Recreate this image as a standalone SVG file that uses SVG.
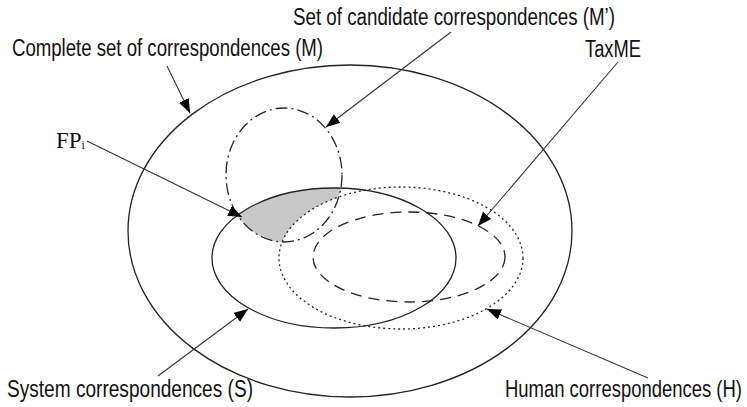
<svg xmlns="http://www.w3.org/2000/svg" width="747" height="407" viewBox="0 0 747 407">
<style>
.lbl{font-family:"Liberation Sans",Arial,sans-serif;font-size:23px;fill:#111}
.ser{font-family:"Liberation Serif","Times New Roman",serif;font-size:23px;fill:#111}
.sh{fill:none;stroke:#222;stroke-width:1.3}
.con{fill:none;stroke:#333;stroke-width:1.1}
</style>
<defs>
<marker id="ah" markerUnits="userSpaceOnUse" markerWidth="16" markerHeight="12" refX="14" refY="5.5" orient="auto">
<path d="M0,0 L14,5.5 L0,11 Z" fill="#000"/>
</marker>
<clipPath id="clipS"><ellipse cx="334" cy="258" rx="122" ry="70"/></clipPath>
</defs>
<rect width="747" height="407" fill="#fff"/>
<g id="fp-region" clip-path="url(#clipS)">
<ellipse cx="284" cy="175" rx="58" ry="67" fill="#c8c8c8"/>
<ellipse cx="401" cy="258" rx="122" ry="71" fill="#fff"/>
</g>
<g id="node-M"><ellipse class="sh" cx="350" cy="231" rx="222" ry="166"/></g>
<g id="node-Mprime"><ellipse class="sh" cx="284" cy="175" rx="58" ry="67" stroke-dasharray="12 4 2 4"/></g>
<g id="node-S"><ellipse class="sh" cx="334" cy="258" rx="122" ry="70"/></g>
<g id="node-H"><ellipse class="sh" cx="401" cy="258" rx="122" ry="71" stroke-dasharray="2 3"/></g>
<g id="node-TaxME"><ellipse class="sh" cx="409" cy="257" rx="96" ry="45" stroke="#555" stroke-dasharray="11 7"/></g>
<g id="connectors">
<line class="con" x1="167" y1="66" x2="190" y2="113" marker-end="url(#ah)"/>
<line class="con" x1="451" y1="32" x2="326" y2="127" marker-end="url(#ah)"/>
<line class="con" x1="618" y1="62" x2="478" y2="226" marker-end="url(#ah)"/>
<line class="con" x1="87" y1="141" x2="242" y2="217" marker-end="url(#ah)"/>
<line class="con" x1="158" y1="376" x2="248" y2="309" marker-end="url(#ah)"/>
<line class="con" x1="648" y1="378" x2="487" y2="309" marker-end="url(#ah)"/>
</g>
<g id="labels">
<text class="lbl" x="12" y="56" textLength="311" lengthAdjust="spacingAndGlyphs">Complete set of correspondences (M)</text>
<text class="lbl" x="293" y="25" textLength="322" lengthAdjust="spacingAndGlyphs">Set of candidate correspondences (M’)</text>
<text class="lbl" x="585" y="57" textLength="56" lengthAdjust="spacingAndGlyphs">TaxME</text>
<text class="ser" x="56" y="148">FP<tspan font-size="12" dy="1">i</tspan></text>
<text class="lbl" x="7" y="397" textLength="246" lengthAdjust="spacingAndGlyphs">System correspondences (S)</text>
<text class="lbl" transform="translate(505,397) scale(0.803,1)">Human correspondences (H)</text>
</g>
</svg>
